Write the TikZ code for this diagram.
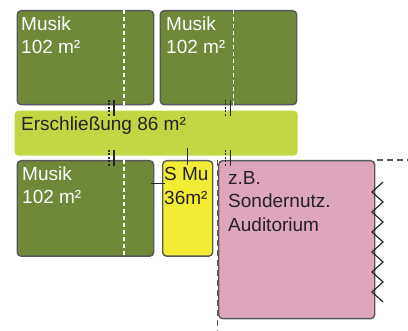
\documentclass[tikz,border=0pt]{standalone}
\usepackage{fontspec}
\setmainfont{Liberation Sans}
\usetikzlibrary{calc}
\definecolor{musikgreen}{RGB}{111,137,56}
\definecolor{flurgreen}{RGB}{193,214,66}
\definecolor{smuyellow}{RGB}{243,236,52}
\definecolor{audpink}{RGB}{222,166,189}
\definecolor{roomframe}{RGB}{88,88,88}
\definecolor{darktext}{RGB}{35,35,35}
\def\roomfont{\fontsize{19}{23.5}\selectfont}

\begin{document}
\begin{tikzpicture}[x=1pt,y=-1pt,
    room/.style={draw=roomframe, line width=1.4pt, rounded corners=4pt, anchor=north west, inner sep=0pt},
    roomtext/.style={anchor=north west, inner sep=0pt, align=left, font=\roomfont, text=darktext},
    wall/.style={draw=black!85, line width=1.4pt},
    doordash/.style={draw=black!85, line width=1.4pt, dash pattern=on 2pt off 1.5pt},
    whitedash/.style={draw=white, line width=1.4pt, dash pattern=on 4pt off 3pt},
    plandash/.style={draw=roomframe, line width=1.2pt, dash pattern=on 6pt off 4pt}]
    \useasboundingbox (0,0) rectangle (408,331);

    % rooms
    \node[room, fill=musikgreen, minimum width=136.5pt, minimum height=94pt] (musikA) at (16.5,10) {};
    \node[room, fill=musikgreen, minimum width=136.5pt, minimum height=94pt] (musikB) at (159.5,10) {};
    \node[room, draw=none, fill=flurgreen, minimum width=283pt, minimum height=45pt] (flur) at (14,110) {};
    \node[room, fill=musikgreen, minimum width=136.5pt, minimum height=95.5pt] (musikC) at (16.5,160) {};
    \node[room, fill=smuyellow, minimum width=50pt, minimum height=95.5pt] (smu) at (162,160) {};
    \node[room, fill=audpink, minimum width=156pt, minimum height=158pt] (aud) at (218,160) {};

    % white lines in the music rooms
    \draw[whitedash] ([xshift=107.5pt]musikA.north west) -- ([xshift=107.5pt]musikA.south west);
    \draw[whitedash] ([xshift=74pt]musikB.north west) -- ([xshift=74pt]musikB.south west);
    \draw[whitedash] ([xshift=107.5pt]musikC.north west) -- ([xshift=107.5pt]musikC.south west);

    % texts
    \node[roomtext, text=white] (tA) at ([shift={(4.5,6.5)}]musikA.north west) {Musik\\102 m²};
    \node[roomtext, text=white] (tB) at ([shift={(6.5,6.5)}]musikB.north west) {Musik\\102 m²};
    \node[roomtext] (tFlur) at ([shift={(7,6.5)}]flur.north west) {Erschließung 86 m²};
    \node[roomtext, text=white] (tC) at ([shift={(5.5,6.5)}]musikC.north west) {Musik\\102 m²};
    \node[roomtext] (tSmu) at ([shift={(2,7.5)}]smu.north west) {S Mu\\36m²};
    \node[roomtext] (tAud) at ([shift={(10,11)}]aud.north west) {z.B.\\Sondernutz.\\Auditorium};

    % plan lines
    \draw[plandash] ([xshift=2pt]aud.north east) -- (408,160);
    \draw[plandash] ([xshift=-0.5pt]aud.north west) -- (217.5,331);

    % doors
    \foreach \dx/\dy in {109/100, 225.5/100, 109/150, 225.5/150} {
        \draw[doordash] (\dx,\dy) -- ++(0,16);
        \draw[wall] (\dx+5,\dy) -- ++(0,16);
    }
    \draw[wall] ([shift={(-3,-25)}]musikC.east) -- ([shift={(3,-25)}]smu.west);
    \draw[wall] ([yshift=12pt]smu.north) -- ([yshift=-5pt]smu.north);

    % zigzag
    \draw[wall, line width=1.2pt] (383,182) \foreach \i in {0,...,5} { -- (372,192+20*\i) -- (383,202+20*\i) };
\end{tikzpicture}
\end{document}
